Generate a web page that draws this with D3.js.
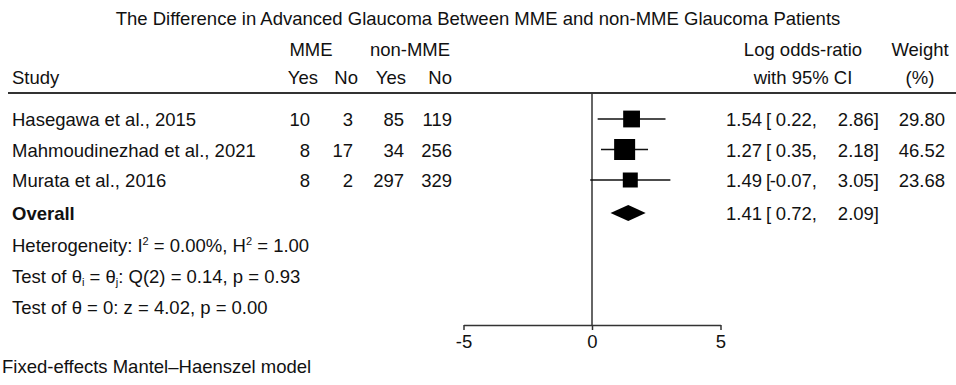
<!DOCTYPE html>
<html>
<head>
<meta charset="utf-8">
<script src="https://cdn.jsdelivr.net/npm/d3@7"></script>
<style>
  html, body { margin: 0; padding: 0; background: #fff; }
  svg { display: block; }
  text { font-family: "Liberation Sans", Arial, Helvetica, sans-serif; fill: #111; }
</style>
</head>
<body>
<svg id="chart" width="956" height="385"></svg>
<script>
// Study-level data
const studies = ["Hasegawa et al., 2015", "Mahmoudinezhad et al., 2021", "Murata et al., 2016"];
const mmeYes = [10, 8, 8];
const mmeNo = [3, 17, 2];
const nonMmeYes = [85, 34, 297];
const nonMmeNo = [119, 256, 329];
const logOR = [1.54, 1.27, 1.49];
const ciLow = [0.22, 0.35, -0.07];
const ciHigh = [2.86, 2.18, 3.05];
const weights = [29.80, 46.52, 23.68];

// Pooled estimate
const overallEst = 1.41;
const overallLow = 0.72;
const overallHigh = 2.09;

// Axis
const xTicks = [-5, 0, 5];

const title = "The Difference in Advanced Glaucoma Between MME and non-MME Glaucoma Patients";
const footer = "Fixed-effects Mantel\u2013Haenszel model";

const svg = d3.select("#chart");
const FS = 18.5;
const lineColor = "#333";

// Plain hyphen for negative numbers
const locale = d3.formatLocale({ decimal: ".", thousands: ",", grouping: [3], currency: ["", ""], minus: "-" });
const fmt = locale.format(".2f");
const fmtTick = locale.format("d");

const x = d3.scaleLinear().domain([-5, 5]).range([463.5, 720.5]);
const size = d3.scaleSqrt().domain([0, d3.max(weights)]).range([0, 21]);

// Row baselines
const rowBase = [126, 156.5, 187];
const overallBase = 220;
const markOffset = 7;

function txt(xp, yp, s, anchor, opts = {}) {
  return svg.append("text")
    .attr("x", xp).attr("y", yp)
    .attr("text-anchor", anchor || "start")
    .attr("font-size", opts.size || FS)
    .attr("font-weight", opts.bold ? "bold" : null)
    .text(s);
}

// Confidence-interval text block: estimate [ low, high]
function ciText(yb, est, lo, hi) {
  txt(762, yb, fmt(est), "end");
  txt(766, yb, "[");
  txt(817, yb, fmt(lo) + ",", "end");
  txt(879, yb, fmt(hi) + "]", "end");
}

// Title
txt(478, 25, title, "middle");

// Column headers
txt(311, 56, "MME", "middle");
txt(410, 56, "non-MME", "middle");
txt(12, 84, "Study");
txt(318, 84, "Yes", "end");
txt(358, 84, "No", "end");
txt(406, 84, "Yes", "end");
txt(452, 84, "No", "end");
txt(803, 56, "Log odds-ratio", "middle");
txt(803, 84, "with 95% CI", "middle");
txt(920, 56, "Weight", "middle");
txt(920, 84, "(%)", "middle");

// Header rule
svg.append("line")
  .attr("x1", 8).attr("x2", 956)
  .attr("y1", 93).attr("y2", 93)
  .attr("stroke", lineColor).attr("stroke-width", 2);

// Null line
svg.append("line")
  .attr("x1", x(0)).attr("x2", x(0))
  .attr("y1", 93).attr("y2", 325)
  .attr("stroke", lineColor).attr("stroke-width", 1.5);

// Study rows
studies.forEach((s, i) => {
  const yb = rowBase[i];
  const yc = yb - markOffset;
  txt(12, yb, s);
  txt(310, yb, mmeYes[i], "end");
  txt(353, yb, mmeNo[i], "end");
  txt(404, yb, nonMmeYes[i], "end");
  txt(452, yb, nonMmeNo[i], "end");

  svg.append("line")
    .attr("x1", x(ciLow[i])).attr("x2", x(ciHigh[i]))
    .attr("y1", yc).attr("y2", yc)
    .attr("stroke", "#111").attr("stroke-width", 1.5);
  const w = size(weights[i]);
  svg.append("rect")
    .attr("x", x(logOR[i]) - w / 2).attr("y", yc - w / 2)
    .attr("width", w).attr("height", w)
    .attr("fill", "#000");

  ciText(yb, logOR[i], ciLow[i], ciHigh[i]);
  txt(945, yb, fmt(weights[i]), "end");
});

// Overall row
txt(12, overallBase, "Overall", "start", { bold: true });
{
  const yc = overallBase - markOffset;
  const h = 8;
  const pts = [
    [x(overallLow), yc], [x(overallEst), yc - h],
    [x(overallHigh), yc], [x(overallEst), yc + h]
  ];
  svg.append("path")
    .attr("d", d3.line()(pts) + "Z")
    .attr("fill", "#000");
  ciText(overallBase, overallEst, overallLow, overallHigh);
}

// Heterogeneity statistics
{
  const t = txt(12, 252, "Heterogeneity: I");
  t.append("tspan").attr("font-size", 11).attr("dy", -7).text("2");
  t.append("tspan").attr("dy", 7).text(" = 0.00%, H");
  t.append("tspan").attr("font-size", 11).attr("dy", -7).text("2");
  t.append("tspan").attr("dy", 7).text(" = 1.00");

  const t2 = txt(12, 283, "Test of \u03b8");
  t2.append("tspan").attr("font-size", 11).attr("dy", 3).text("i");
  t2.append("tspan").attr("dy", -3).text(" = \u03b8");
  t2.append("tspan").attr("font-size", 11).attr("dy", 3).text("j");
  t2.append("tspan").attr("dy", -3).text(": Q(2) = 0.14, p = 0.93");

  txt(12, 314, "Test of \u03b8 = 0: z = 4.02, p = 0.00");
}

// X axis
const axis = svg.append("g")
  .attr("transform", "translate(0,325)")
  .call(d3.axisBottom(x).tickValues(xTicks).tickSize(5).tickSizeOuter(0).tickPadding(5).tickFormat(fmtTick));
axis.select(".domain").attr("stroke", lineColor).attr("stroke-width", 1.5);
axis.selectAll(".tick line").attr("stroke", lineColor).attr("stroke-width", 1.5);
axis.selectAll(".tick text")
  .attr("font-size", FS)
  .attr("font-family", "Liberation Sans, Arial, sans-serif")
  .attr("fill", "#111");

// Footer
txt(2, 373, footer);
</script>
</body>
</html>
